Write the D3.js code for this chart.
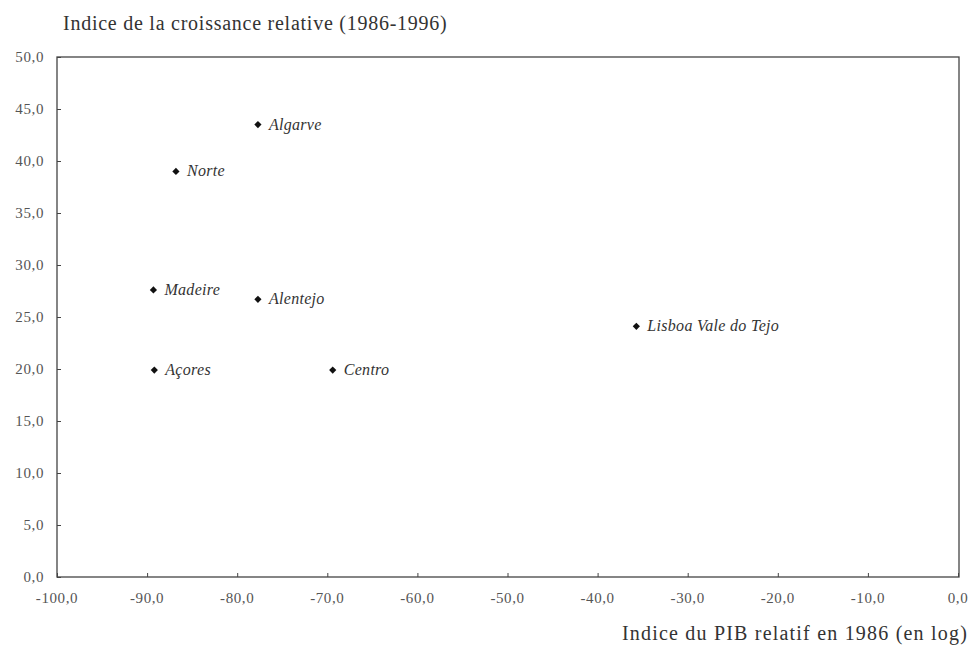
<!DOCTYPE html>
<html>
<head>
<meta charset="utf-8">
<script src="https://cdn.jsdelivr.net/npm/d3@7"></script>
<style>
  body { margin: 0; background: #fff; }
</style>
</head>
<body>
<svg width="975" height="648"></svg>
<script>
// data
const regions = ['Algarve', 'Norte', 'Madeire', 'Alentejo', 'Açores', 'Centro', 'Lisboa Vale do Tejo']
const pibIndex = [-77.7, -86.8, -89.3, -77.7, -89.2, -69.4, -35.7]
const growthIndex = [43.5, 39.0, 27.6, 26.7, 19.9, 19.9, 24.1]
const xTicks = [-100, -90, -80, -70, -60, -50, -40, -30, -20, -10, 0]
const yTicks = [0, 5, 10, 15, 20, 25, 30, 35, 40, 45, 50]

const serif = '"Liberation Serif", "Times New Roman", Times, serif'
const svg = d3.select('svg')
  .attr('font-family', serif)
const plotLeft = 57, plotRight = 958, plotTop = 57, plotBottom = 577

const xScale = d3.scaleLinear().domain([-100, 0]).range([plotLeft, plotRight])
const yScale = d3.scaleLinear().domain([0, 50]).range([plotBottom, plotTop])

const fmt = d => d3.format('.1f')(d).replace('.', ',').replace('−', '-')

// frame
svg.append('rect')
  .attr('x', plotLeft).attr('y', plotTop)
  .attr('width', plotRight - plotLeft + 1).attr('height', plotBottom - plotTop)
  .attr('fill', 'none').attr('stroke', '#444').attr('stroke-width', 1.3)

// x axis (ticks pointing inward)
const xAxis = svg.append('g')
  .attr('transform', 'translate(0,' + plotBottom + ')')
  .call(d3.axisTop(xScale).tickValues(xTicks).tickSize(4).tickFormat(''))
xAxis.select('.domain').remove()
xAxis.selectAll('line').attr('stroke', '#444')
svg.selectAll('.xlab')
  .data(xTicks)
  .enter()
  .append('text')
  .attr('font-family', serif)
  .attr('fill', '#555')
  .attr('x', d => xScale(d))
  .attr('y', plotBottom + 26)
  .attr('text-anchor', 'middle')
  .attr('font-size', 15)
  .attr('letter-spacing', 0.6)
  .text(d => fmt(d))

// y axis
const yAxis = svg.append('g')
  .attr('transform', 'translate(' + plotLeft + ',0)')
  .call(d3.axisRight(yScale).tickValues(yTicks).tickSize(4).tickFormat(''))
yAxis.select('.domain').remove()
yAxis.selectAll('line').attr('stroke', '#444')
svg.selectAll('.ylab')
  .data(yTicks)
  .enter()
  .append('text')
  .attr('font-family', serif)
  .attr('fill', '#555')
  .attr('x', plotLeft - 13)
  .attr('y', d => yScale(d) + 5)
  .attr('text-anchor', 'end')
  .attr('font-size', 15)
  .attr('letter-spacing', 0.6)
  .text(d => fmt(d))

// titles
svg.append('text')
  .attr('font-family', serif)
  .attr('fill', '#333')
  .attr('x', 63).attr('y', 30)
  .attr('font-size', 20)
  .attr('letter-spacing', 0.75)
  .text('Indice de la croissance relative (1986-1996)')
svg.append('text')
  .attr('font-family', serif)
  .attr('fill', '#333')
  .attr('x', 968).attr('y', 640)
  .attr('text-anchor', 'end')
  .attr('font-size', 20)
  .attr('letter-spacing', 1.2)
  .text('Indice du PIB relatif en 1986 (en log)')

// points (square rotated into a diamond)
const pts = regions.map((r, i) => ({ name: r, x: pibIndex[i], y: growthIndex[i] }))
svg.selectAll('.pt')
  .data(pts)
  .enter()
  .append('path')
  .attr('d', d3.symbol().type(d3.symbolSquare).size(26))
  .attr('transform', d => 'translate(' + xScale(d.x) + ',' + yScale(d.y) + ') rotate(45)')
  .attr('fill', '#111')

svg.selectAll('.lab')
  .data(pts)
  .enter()
  .append('text')
  .attr('font-family', serif)
  .attr('fill', '#333')
  .attr('x', d => xScale(d.x) + 11)
  .attr('y', d => yScale(d.y) + 5)
  .attr('font-size', 16)
  .attr('letter-spacing', 0.3)
  .attr('font-style', 'italic')
  .text(d => d.name)
</script>
</body>
</html>
